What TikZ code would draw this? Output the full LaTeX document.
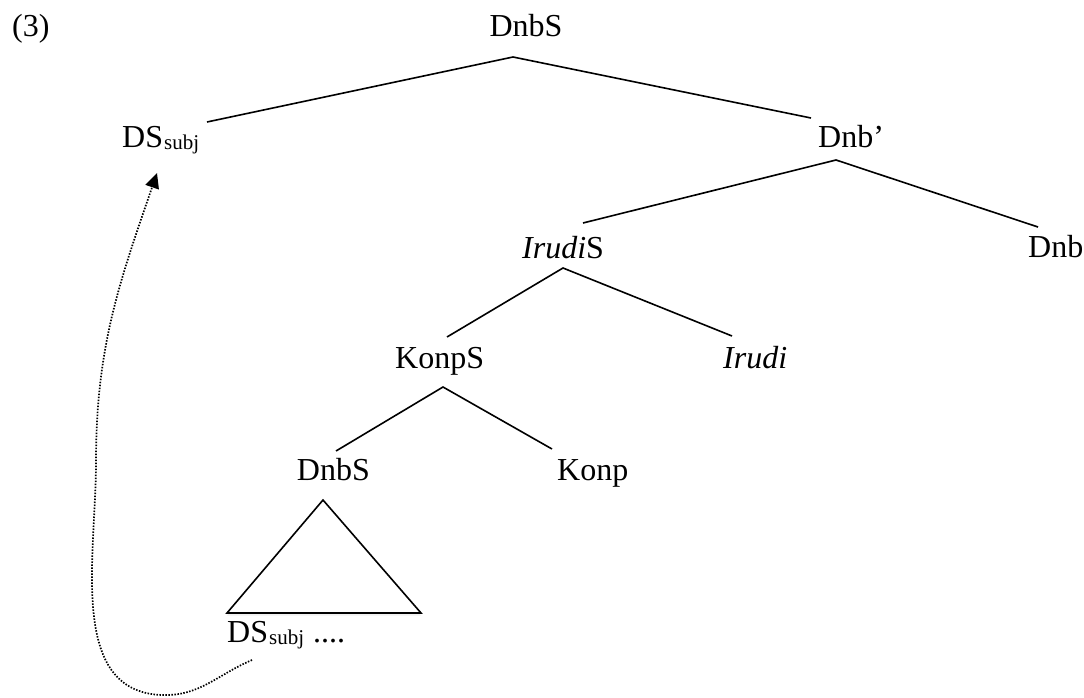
\documentclass[tikz,border=0pt]{standalone}
\usepackage{fontspec}
\setmainfont{Liberation Serif}
\usetikzlibrary{arrows.meta,shadows}
\begin{document}
\begin{tikzpicture}[x=1pt,y=1pt,
  lbl/.style={inner sep=0pt,font=\fontsize{32}{38}\selectfont},
  branch/.style={line width=1.6pt},
  movearrow/.style={line width=1.7pt,dash pattern=on 1.5pt off 1.5pt,
    -{Triangle[length=15pt,width=14pt]}}]
\useasboundingbox (0,0) rectangle (1084,-698);
\newcommand{\sbj}{\hspace{1pt}\raisebox{-2.5pt}{\fontsize{21}{24}\selectfont subj}}
% labels
\node[lbl,anchor=base west] (num) at (12,-37) {(3)};
\node[lbl,anchor=base] (root) at (526,-37) {DnbS};
\node[lbl,anchor=base west] (dssubj) at (122,-147) {DS\sbj};
\node[lbl,anchor=base west] (dnbbar) at (818,-147) {Dnb’};
\node[lbl,anchor=base west] (irudis) at (522,-258) {\textit{Irudi}S};
\node[lbl,anchor=base west] (dnb) at (1028,-257) {Dnb};
\node[lbl,anchor=base west] (konps) at (395,-368) {KonpS};
\node[lbl,anchor=base west] (irudi) at (723,-368) {\textit{Irudi}};
\node[lbl,anchor=base east] (dnbs2) at (370,-480) {DnbS};
\node[lbl,anchor=base west] (konp) at (557,-480) {Konp};
\node[lbl,anchor=base west] (dslow) at (227,-642) {DS\sbj\hspace{9pt}....};
% branch points
\coordinate (rootB) at (513,-57);
\coordinate (dssubjT) at (207,-122);
\coordinate (dnbbarT) at (811,-118);
\coordinate (dnbbarB) at (836,-160);
\coordinate (irudisT) at (583,-223);
\coordinate (dnbT) at (1038,-227);
\coordinate (irudisB) at (563,-268);
\coordinate (konpsT) at (447,-337);
\coordinate (irudiT) at (732,-336);
\coordinate (konpsB) at (443,-387);
\coordinate (dnbs2T) at (336,-451);
\coordinate (konpT) at (552,-449);
\coordinate (triA) at (323,-500);
\coordinate (triL) at (227,-613);
\coordinate (triR) at (421,-613);
\coordinate (curveS) at (252,-660);
\coordinate (curveB) at (162,-695);
\coordinate (curveM) at (96,-462);
\coordinate (arrowT) at (157,-173);
% branches
\draw[branch] (dssubjT) -- (rootB) -- (dnbbarT);
\draw[branch] (irudisT) -- (dnbbarB) -- (dnbT);
\draw[branch] (konpsT) -- (irudisB) -- (irudiT);
\draw[branch] (dnbs2T) -- (konpsB) -- (konpT);
\draw[branch,fill=white,line join=miter,drop shadow={shadow xshift=0pt,shadow yshift=-2.5pt,opacity=0.12}] (triA) -- (triL) -- (triR) -- cycle;
% movement arrow
\draw[movearrow] (curveS) to[out=203,in=-2] (curveB) to[out=178,in=-90] (curveM) to[out=90,in=-109,looseness=1.0] (arrowT);
\end{tikzpicture}
\end{document}
